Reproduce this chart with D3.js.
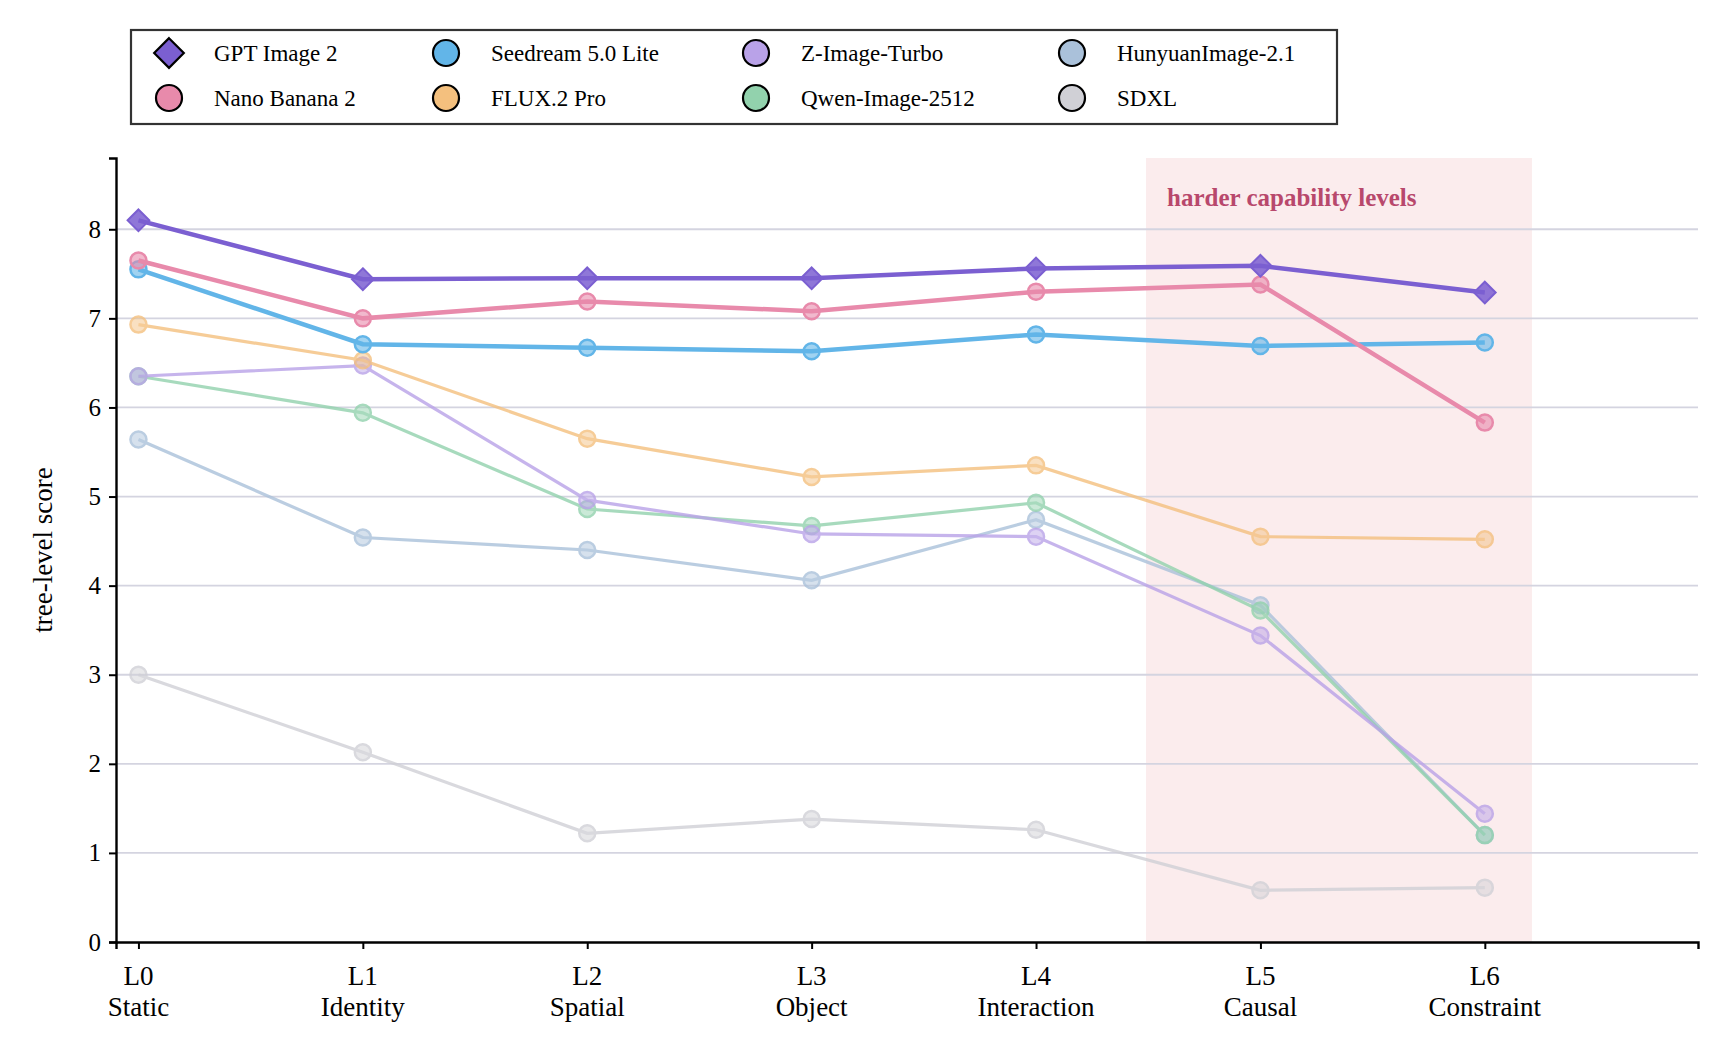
<!DOCTYPE html>
<html><head><meta charset="utf-8">
<script src="https://cdn.jsdelivr.net/npm/d3@7"></script>
<style>body{margin:0;background:#fff}svg{font-family:"Liberation Serif","DejaVu Serif",serif}</style>
</head><body><svg id="c" width="1727" height="1049"></svg>
<script>
const levels = ['L0', 'L1', 'L2', 'L3', 'L4', 'L5', 'L6']
const levelNames = ['Static', 'Identity', 'Spatial', 'Object', 'Interaction', 'Causal', 'Constraint']
const yTicks = [0, 1, 2, 3, 4, 5, 6, 7, 8]
const models = ['GPT Image 2', 'Nano Banana 2', 'Seedream 5.0 Lite', 'FLUX.2 Pro', 'Z-Image-Turbo', 'Qwen-Image-2512', 'HunyuanImage-2.1', 'SDXL']
const gpt = [8.1, 7.44, 7.45, 7.45, 7.56, 7.59, 7.29]
const nano = [7.65, 7.0, 7.19, 7.08, 7.3, 7.38, 5.83]
const seedream = [7.55, 6.71, 6.67, 6.63, 6.82, 6.69, 6.73]
const flux = [6.93, 6.53, 5.65, 5.22, 5.35, 4.55, 4.52]
const zimage = [6.35, 6.47, 4.96, 4.58, 4.55, 3.44, 1.44]
const qwen = [6.35, 5.94, 4.86, 4.67, 4.93, 3.72, 1.2]
const hunyuan = [5.64, 4.54, 4.4, 4.06, 4.74, 3.78, 1.2]
const sdxl = [3.0, 2.13, 1.22, 1.38, 1.26, 0.58, 0.61]
const series = [gpt, nano, seedream, flux, zimage, qwen, hunyuan, sdxl]
const colors = ['#7b5fd1', '#e88aab', '#62b5e8', '#f4c07e', '#b9a2e8', '#92d2ad', '#aac1da', '#d0d0d6']
const strong = [true, true, true, false, false, false, false, false]
const band = [4.49, 6.21]

const svg = d3.select('#c')
const x = d3.scaleLinear().domain([-0.1, 6.95]).range([116, 1698])
const y = d3.scaleLinear().domain([0, 8.8]).range([942, 158])

// shaded band
svg.append('rect')
  .attr('x', x(band[0])).attr('width', x(band[1]) - x(band[0]))
  .attr('y', y(8.8)).attr('height', y(0) - y(8.8))
  .attr('fill', '#fbeced')

// grid
svg.append('g').selectAll('line').data(yTicks.slice(1)).enter().append('line')
  .attr('x1', x(-0.1)).attr('x2', x(6.95))
  .attr('y1', d => y(d)).attr('y2', d => y(d))
  .style('stroke', '#d4d4e0').style('stroke-width', 1.8)

svg.append('text').attr('x', 1167).attr('y', 206)
  .attr('fill', '#b8486c').attr('font-weight', 'bold').attr('font-size', 25)
  .text('harder capability levels')

// axes
const yAxis = svg.append('g').attr('transform', `translate(${x(-0.1)},0)`)
  .call(d3.axisLeft(y).tickValues(yTicks).tickSize(7).tickPadding(8))
const xAxis = svg.append('g').attr('transform', `translate(0,${y(0)})`)
  .call(d3.axisBottom(x).tickValues(d3.range(7)).tickSize(7).tickFormat(''))
;[yAxis, xAxis].forEach(a => {
  a.select('.domain').attr('stroke', '#000').attr('stroke-width', 2.4)
  a.selectAll('.tick line').attr('stroke', '#000').attr('stroke-width', 2)
})
yAxis.selectAll('text').attr('font-size', 25).attr('font-family', '"Liberation Serif",serif').attr('fill', '#000')

const xl = svg.append('g').selectAll('text').data(levels).enter().append('text')
  .attr('x', (d, i) => x(i)).attr('text-anchor', 'middle').attr('font-size', 27)
xl.append('tspan').attr('x', (d, i) => x(i)).attr('y', 985).text(d => d)
xl.append('tspan').attr('x', (d, i) => x(i)).attr('y', 1016).text((d, i) => levelNames[i])

svg.append('text').attr('transform', 'translate(52,550) rotate(-90)')
  .attr('text-anchor', 'middle').attr('font-size', 27).text('tree-level score')

// lines, drawn bottom-up
const line = d3.line().x((d, i) => x(i)).y(d => y(d))
const diamond = d3.symbol().type(d3.symbolDiamond2)
for (let s = series.length - 1; s >= 0; s--) {
  const g = svg.append('g').style('opacity', strong[s] ? 1 : 0.8)
  g.append('path').datum(series[s]).attr('d', line)
    .attr('fill', 'none').attr('stroke', colors[s]).attr('stroke-width', strong[s] ? 4.5 : 3.2)
  const pts = g.selectAll('.p').data(series[s]).enter()
  if (s === 0) {
    pts.append('path').attr('d', diamond.size(300)())
      .attr('transform', (d, i) => `translate(${x(i)},${y(d)})`)
      .attr('fill', colors[s]).attr('stroke', colors[s]).attr('stroke-width', 2)
      .attr('fill-opacity', 0.85)
  } else {
    pts.append('circle').attr('cx', (d, i) => x(i)).attr('cy', d => y(d)).attr('r', 8)
      .attr('fill', colors[s]).attr('fill-opacity', 0.6)
      .attr('stroke', colors[s]).attr('stroke-width', 2.5)
  }
}

// legend
svg.append('rect').attr('x', 131).attr('y', 30).attr('width', 1206).attr('height', 94)
  .attr('fill', '#fff').attr('stroke', '#333').attr('stroke-width', 2.2)
const colX = [169, 446, 756, 1072]
const rowY = [53, 98]
models.forEach((m, i) => {
  const cx = colX[Math.floor(i / 2)], cy = rowY[i % 2]
  if (i === 0) {
    svg.append('path').attr('d', d3.symbol().type(d3.symbolDiamond2).size(560)())
      .attr('transform', `translate(${cx},${cy})`)
      .attr('fill', colors[i]).attr('stroke', '#000').attr('stroke-width', 2.2)
  } else {
    svg.append('circle').attr('cx', cx).attr('cy', cy).attr('r', 13)
      .attr('fill', colors[i]).attr('stroke', '#000').attr('stroke-width', 2.2)
  }
  svg.append('text').attr('x', cx + 45).attr('y', cy + 8).attr('font-size', 23).text(m)
})
</script></body></html>
